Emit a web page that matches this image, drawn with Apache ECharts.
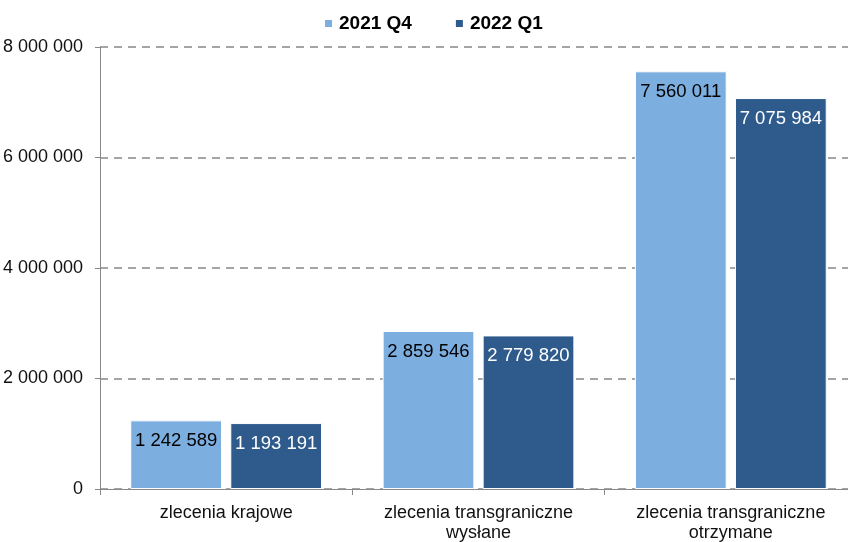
<!DOCTYPE html>
<html>
<head>
<meta charset="utf-8">
<script src="https://cdn.jsdelivr.net/npm/echarts@6/dist/echarts.min.js"></script>
<style>
  html, body { margin: 0; padding: 0; background: #fff; }
  #chart { width: 848px; height: 542px; }
</style>
</head>
<body>
<!-- chart container -->
<div id="chart"></div>
<script>
// data
const categories = ['zlecenia krajowe', 'zlecenia transgraniczne\nwysłane', 'zlecenia transgraniczne\notrzymane']
const seriesNames = ['2021 Q4', '2022 Q1']
const q4_2021 = [1242589, 2859546, 7560011]
const q1_2022 = [1193191, 2779820, 7075984]
const yTicks = [0, 2000000, 4000000, 6000000, 8000000]

// 1234567 -> "1 234 567"
const fmt = v => String(v).replace(/\B(?=(\d{3})+(?!\d))/g, ' ')

const chart = echarts.init(document.getElementById('chart'))
const font = 'Liberation Sans, Arial, sans-serif'

const option = {
  animation: false,
  legend: {
    top: 9,
    left: 318,
    itemWidth: 9,
    itemHeight: 9,
    itemGap: 42,
    icon: 'rect',
    textStyle: { fontFamily: font, fontSize: 19, fontWeight: 'bold', color: '#000', padding: [0, 0, 0, 1] },
    data: seriesNames
  },
  // grid runs a little past the right edge, as in the source
  grid: { left: 100, width: 757, top: 47, bottom: 53, outerBoundsMode: 'none' },
  xAxis: {
    type: 'category',
    data: categories,
    axisLine: { lineStyle: { color: '#888' } },
    axisTick: { show: true, alignWithLabel: false, length: 6, lineStyle: { color: '#888' } },
    axisLabel: { fontFamily: font, fontSize: 18, color: '#111', margin: 14, lineHeight: 20 }
  },
  yAxis: {
    type: 'value',
    min: yTicks[0],
    max: yTicks[yTicks.length - 1],
    interval: 2000000,
    axisLine: { show: true, lineStyle: { color: '#888' } },
    axisTick: { show: true, length: 5, lineStyle: { color: '#888' } },
    axisLabel: { fontFamily: font, fontSize: 18, color: '#111', margin: 17, formatter: fmt },
    splitLine: { lineStyle: { color: '#888', type: [8, 6], width: 1.5 } }
  },
  series: [
    {
      name: seriesNames[0],
      type: 'bar',
      data: q4_2021,
      barGap: '9%',
      barCategoryGap: '24%',
      itemStyle: { color: '#7DAEE0', borderColor: '#fff', borderWidth: 1 },
      label: {
        show: true, position: 'insideTop', distance: 11,
        fontFamily: font, fontSize: 18.5, color: '#000',
        formatter: p => fmt(p.value)
      }
    },
    {
      name: seriesNames[1],
      type: 'bar',
      data: q1_2022,
      itemStyle: { color: '#2E5A8C', borderColor: '#fff', borderWidth: 1 },
      label: {
        show: true, position: 'insideTop', distance: 11,
        fontFamily: font, fontSize: 18.5, color: '#fff',
        formatter: p => fmt(p.value)
      }
    }
  ]
}

chart.setOption(option)
</script>
</body>
</html>
